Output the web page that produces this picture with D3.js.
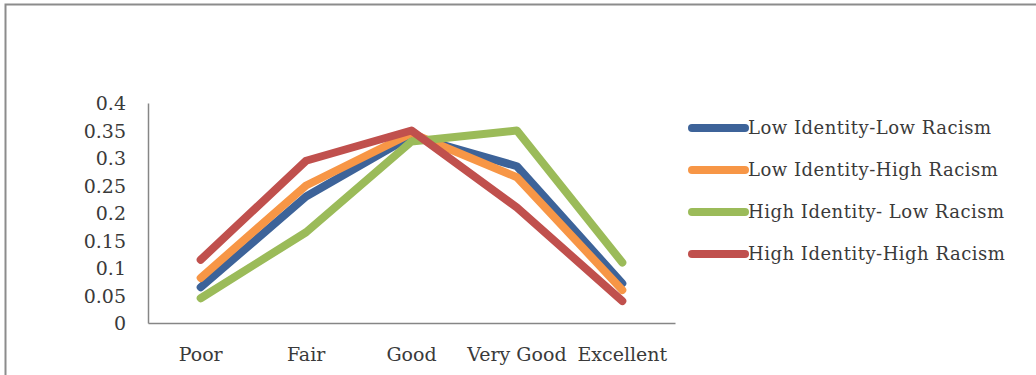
<!DOCTYPE html>
<html>
<head>
<meta charset="utf-8">
<script src="https://cdn.jsdelivr.net/npm/d3@7"></script>
<style>
  body { margin: 0; background: #fff; }
  svg text { font-family: "DejaVu Serif", "Liberation Serif", serif; fill: #3a3a3a; }
</style>
</head>
<body>
<svg id="chart" width="1036" height="375"></svg>
<script>
var categories = ["Poor", "Fair", "Good", "Very Good", "Excellent"];
var seriesNames = ["Low Identity-Low Racism", "Low Identity-High Racism",
  "High Identity- Low Racism", "High Identity-High Racism"];
var lowLow = [0.065, 0.23, 0.34, 0.285, 0.072];
var lowHigh = [0.082, 0.25, 0.345, 0.265, 0.06];
var highLow = [0.045, 0.165, 0.33, 0.35, 0.11];
var highHigh = [0.115, 0.295, 0.35, 0.21, 0.04];
var yTicks = [0, 0.05, 0.1, 0.15, 0.2, 0.25, 0.3, 0.35, 0.4];
var colors = ["#3d6399", "#f79646", "#9bbb59", "#c0504d"];

var series = [lowLow, lowHigh, highLow, highHigh];

var svg = d3.select("#chart");

// outer frame
svg.append("rect")
  .attr("x", 5.5).attr("y", 4.5)
  .attr("width", 1040).attr("height", 380)
  .attr("fill", "none")
  .attr("stroke", "#8c8c8c")
  .attr("stroke-width", 2);

var x = d3.scaleBand()
  .domain(categories)
  .range([148, 675]);

var y = d3.scaleLinear()
  .domain([0, 0.4])
  .range([323, 103]);

// axes
var yAxis = svg.append("g")
  .attr("transform", "translate(148,0)")
  .call(d3.axisLeft(y).tickValues(yTicks).tickSize(0).tickPadding(22)
    .tickFormat(function (d) { return d3.format("")(+d.toFixed(2)); }));
yAxis.select(".domain").attr("stroke", "#868686").attr("stroke-width", 1.5);
yAxis.selectAll("text").style("font-size", "19px").attr("dy", "0.35em");

var xAxis = svg.append("g")
  .attr("transform", "translate(0,323)")
  .call(d3.axisBottom(x).tickSize(0).tickPadding(31));
xAxis.select(".domain").attr("stroke", "#868686").attr("stroke-width", 1.5);
xAxis.selectAll("text").style("font-size", "19px").attr("dy", "0.35em");

var line = d3.line()
  .x(function (d, i) { return x(categories[i]) + x.bandwidth() / 2; })
  .y(function (d) { return y(d); });

svg.append("g")
  .selectAll("path")
  .data(series)
  .enter().append("path")
  .attr("d", line)
  .attr("fill", "none")
  .attr("stroke", function (d, i) { return colors[i]; })
  .attr("stroke-width", 8)
  .attr("stroke-linecap", "round")
  .attr("stroke-linejoin", "round");

// legend
var legend = svg.append("g")
  .selectAll("g")
  .data(seriesNames)
  .enter().append("g")
  .attr("transform", function (d, i) { return "translate(692," + (128 + i * 42) + ")"; });

legend.append("line")
  .attr("x1", 0).attr("x2", 53)
  .attr("stroke", function (d, i) { return colors[i]; })
  .attr("stroke-width", 8)
  .attr("stroke-linecap", "round");

legend.append("text")
  .attr("x", 56)
  .attr("dy", "0.35em")
  .style("font-size", "18px")
  .style("letter-spacing", "0.5px")
  .text(function (d) { return d; });
</script>
</body>
</html>
